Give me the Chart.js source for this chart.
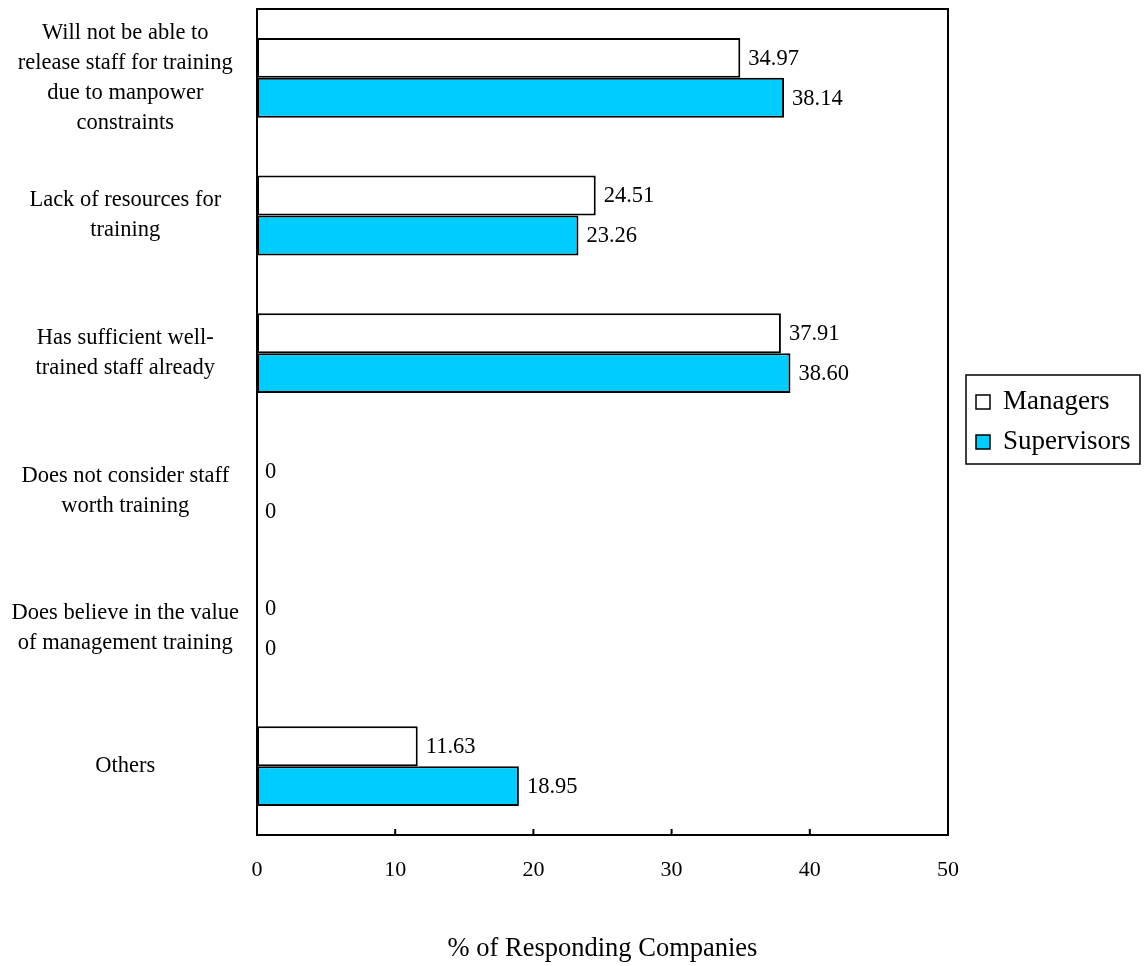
<!DOCTYPE html>
<html>
<head>
<meta charset="utf-8">
<script src="https://cdn.jsdelivr.net/npm/chart.js@4.4.1/dist/chart.umd.min.js"></script>
<style>
  html, body { margin: 0; padding: 0; background: #ffffff; }
  #wrap { width: 1144px; height: 966px; }
</style>
</head>
<body>
<div id="wrap"><canvas id="chart" width="1144" height="966"></canvas></div>
<script>
// Reasons given for not training staff, by staff level
const categories = [
  ['Will not be able to', 'release staff for training', 'due to manpower', 'constraints'],
  ['Lack of resources for', 'training'],
  ['Has sufficient well-', 'trained staff already'],
  ['Does not consider staff', 'worth training'],
  ['Does believe in the value', 'of management training'],
  'Others'
];
const managers = [34.97, 24.51, 37.91, 0, 0, 11.63];
const supervisors = [38.14, 23.26, 38.60, 0, 0, 18.95];
const xTickValues = [0, 10, 20, 30, 40, 50];
const seriesNames = ['Managers', 'Supervisors'];
const axisTitle = '% of Responding Companies';

const FONT = "'Liberation Serif', 'Times New Roman', serif";

// Frame on top/right edges plus inward tick marks on the value axis
const framePlugin = {
  id: 'frame',
  afterDatasetsDraw(chart) {
    const { ctx, chartArea: a, scales } = chart;
    ctx.save();
    ctx.strokeStyle = '#000';
    ctx.lineWidth = 2;
    ctx.beginPath();
    ctx.moveTo(a.left - 1, a.top);
    ctx.lineTo(a.right, a.top);
    ctx.lineTo(a.right, a.bottom + 1);
    ctx.stroke();
    ctx.beginPath();
    xTickValues.forEach(v => {
      const x = scales.x.getPixelForValue(v);
      ctx.moveTo(x, a.bottom);
      ctx.lineTo(x, a.bottom - 6);
    });
    ctx.stroke();
    ctx.restore();
  }
};

// Value labels at the end of each bar
const valueLabels = {
  id: 'valueLabels',
  afterDatasetsDraw(chart) {
    const { ctx } = chart;
    ctx.save();
    ctx.font = `22.5px ${FONT}`;
    ctx.fillStyle = '#000';
    ctx.textAlign = 'left';
    ctx.textBaseline = 'middle';
    chart.data.datasets.forEach((ds, di) => {
      const meta = chart.getDatasetMeta(di);
      meta.data.forEach((bar, i) => {
        const v = ds.data[i];
        const txt = v === 0 ? '0' : v.toFixed(2);
        ctx.fillText(txt, bar.x + 8, bar.y + 1);
      });
    });
    ctx.restore();
  }
};

// Boxed legend to the right of the plot area
const boxedLegend = {
  id: 'boxedLegend',
  afterDraw(chart) {
    const { ctx, chartArea: a } = chart;
    const boxX = a.right + 18;
    const boxW = 174;
    const boxH = 89;
    const boxY = (a.top + a.bottom) / 2 - boxH / 2 - 2.5;
    ctx.save();
    ctx.strokeStyle = '#000';
    ctx.lineWidth = 1.5;
    ctx.strokeRect(boxX, boxY, boxW, boxH);
    ctx.font = `27px ${FONT}`;
    ctx.textAlign = 'left';
    ctx.textBaseline = 'middle';
    chart.data.datasets.forEach((ds, i) => {
      const cy = boxY + 27 + i * 40;
      ctx.fillStyle = ds.backgroundColor;
      ctx.fillRect(boxX + 10, cy - 7, 14, 14);
      ctx.lineWidth = 1.5;
      ctx.strokeRect(boxX + 10, cy - 7, 14, 14);
      ctx.fillStyle = '#000';
      ctx.fillText(ds.label, boxX + 37, cy);
    });
    ctx.restore();
  }
};

new Chart(document.getElementById('chart'), {
  type: 'bar',
  data: {
    labels: categories,
    datasets: [
      {
        label: seriesNames[0],
        data: managers,
        backgroundColor: '#ffffff',
        borderColor: '#000000',
        borderWidth: 2,
        borderSkipped: false
      },
      {
        label: seriesNames[1],
        data: supervisors,
        backgroundColor: '#00ccff',
        borderColor: '#000000',
        borderWidth: 2,
        borderSkipped: false
      }
    ]
  },
  options: {
    indexAxis: 'y',
    responsive: false,
    animation: false,
    devicePixelRatio: 1,
    categoryPercentage: 0.58,
    barPercentage: 1.0,
    layout: { padding: { top: 9, right: 196, bottom: 0, left: 0 } },
    plugins: {
      legend: { display: false },
      tooltip: { enabled: false }
    },
    scales: {
      x: {
        type: 'linear',
        min: 0,
        max: 50,
        afterBuildTicks(scale) {
          scale.ticks = xTickValues.map(v => ({ value: v }));
        },
        grid: { display: false },
        border: { display: true, color: '#000', width: 2 },
        ticks: {
          color: '#000',
          padding: 14,
          font: { family: FONT, size: 22 }
        },
        title: {
          display: true,
          text: axisTitle,
          color: '#000',
          font: { family: FONT, size: 26.5 },
          padding: { top: 31, bottom: 1 }
        },
        afterFit(scale) {
          scale.height = 131;
        }
      },
      y: {
        grid: { display: false },
        border: { display: true, color: '#000', width: 2 },
        ticks: {
          color: '#000',
          padding: 10,
          crossAlign: 'center',
          font: { family: FONT, size: 22.5, lineHeight: 1.33 }
        },
        afterFit(scale) {
          scale.width = 257;
          scale.paddingTop = 0;
          scale.paddingBottom = 0;
        }
      }
    }
  },
  plugins: [framePlugin, valueLabels, boxedLegend]
});
</script>
</body>
</html>
